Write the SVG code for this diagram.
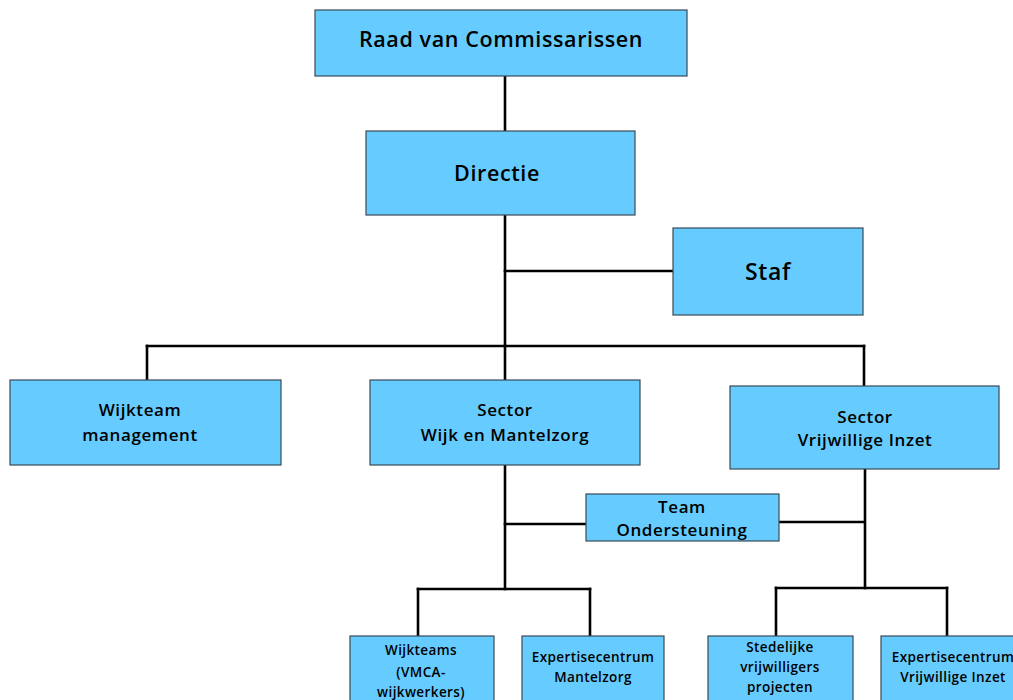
<svg xmlns="http://www.w3.org/2000/svg" width="1013" height="700" viewBox="0 0 1013 700">
<style>
.box{fill:#66CCFF;stroke:#3a4a55;stroke-width:1.2}
.ln{stroke:#000;stroke-width:2.6;fill:none;stroke-linecap:square}
text{font-family:"Open Sans","DejaVu Sans",sans-serif;font-weight:600;fill:#000;text-anchor:middle;letter-spacing:0.6px}
.t22{font-size:21.5px}
.t18{font-size:17px}
.t14{font-size:13.5px;letter-spacing:0.4px}
</style>
<rect width="1013" height="700" fill="#fff"/>
<g id="connectors">
<path class="ln" d="M505 76V131"/>
<path class="ln" d="M505 215V346"/>
<path class="ln" d="M505 271H673"/>
<path class="ln" d="M147 346H864"/>
<path class="ln" d="M147 346V380"/>
<path class="ln" d="M505 346V380"/>
<path class="ln" d="M864 346V386"/>
<path class="ln" d="M505 465V589"/>
<path class="ln" d="M505 524H586"/>
<path class="ln" d="M779 522H864"/>
<path class="ln" d="M865 469V588"/>
<path class="ln" d="M418 589H590"/>
<path class="ln" d="M418 589V636"/>
<path class="ln" d="M590 589V636"/>
<path class="ln" d="M776 588H947"/>
<path class="ln" d="M776 588V636"/>
<path class="ln" d="M947 588V636"/>
</g>
<g id="raad">
<rect class="box" x="315" y="10" width="372" height="66"/>
<text class="t22" x="501" y="47">Raad van Commissarissen</text>
</g>
<g id="directie">
<rect class="box" x="366" y="131" width="269" height="84"/>
<text class="t22" x="497" y="181">Directie</text>
</g>
<g id="staf">
<rect class="box" x="673" y="228" width="190" height="87"/>
<text x="768" y="280" style="font-size:23px">Staf</text>
</g>
<g id="wijkteam-management">
<rect class="box" x="10" y="380" width="271" height="85"/>
<text class="t18" x="140" y="416">Wijkteam</text>
<text class="t18" x="140" y="441">management</text>
</g>
<g id="sector-wijk">
<rect class="box" x="370" y="380" width="270" height="85"/>
<text class="t18" x="505" y="416">Sector</text>
<text class="t18" x="505" y="441">Wijk en Mantelzorg</text>
</g>
<g id="sector-vrijwillige">
<rect class="box" x="730" y="386" width="269" height="83"/>
<text class="t18" x="865" y="423">Sector</text>
<text class="t18" x="865" y="446">Vrijwillige Inzet</text>
</g>
<g id="team-ondersteuning">
<rect class="box" x="586" y="494" width="193" height="47"/>
<text class="t18" x="682" y="513">Team</text>
<text class="t18" x="682" y="536">Ondersteuning</text>
</g>
<g id="wijkteams">
<rect class="box" x="350" y="636" width="144" height="70"/>
<text class="t14" x="421" y="655">Wijkteams</text>
<text class="t14" x="421" y="677">(VMCA-</text>
<text class="t14" x="421" y="697">wijkwerkers)</text>
</g>
<g id="expertise-mantelzorg">
<rect class="box" x="522" y="636" width="142" height="70"/>
<text class="t14" x="593" y="662">Expertisecentrum</text>
<text class="t14" x="593" y="682">Mantelzorg</text>
</g>
<g id="stedelijke">
<rect class="box" x="708" y="636" width="145" height="70"/>
<text class="t14" x="780" y="652">Stedelijke</text>
<text class="t14" x="780" y="672">vrijwilligers</text>
<text class="t14" x="780" y="692">projecten</text>
</g>
<g id="expertise-vrijwillige">
<rect class="box" x="881" y="636" width="145" height="70"/>
<text class="t14" x="953" y="662">Expertisecentrum</text>
<text class="t14" x="953" y="682">Vrijwillige Inzet</text>
</g>
</svg>
